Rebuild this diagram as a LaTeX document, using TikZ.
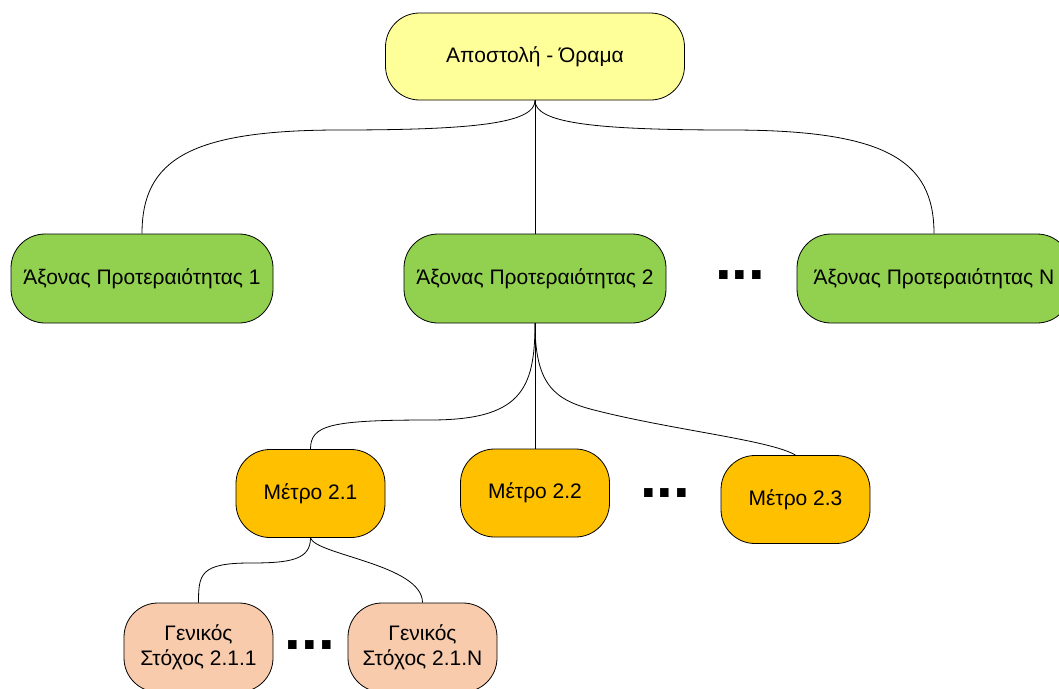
\documentclass[tikz,border=0pt]{standalone}
\usepackage{fontspec}
\setmainfont{Liberation Sans}
\definecolor{visionyellow}{HTML}{FFFF99}
\definecolor{axisgreen}{HTML}{92D050}
\definecolor{measureorange}{HTML}{FFC000}
\definecolor{goalpeach}{HTML}{F8CBAD}
\begin{document}
\begin{tikzpicture}[x=1pt, y=-1pt,
	box/.style={draw, rounded corners=34pt, align=center, line width=0.8pt,
		inner sep=0pt, font=\fontsize{21}{25}\selectfont},
	vision/.style={box, fill=visionyellow, minimum width=299pt, minimum height=87pt},
	axis/.style={box, fill=axisgreen, minimum width=262pt, minimum height=89pt},
	measure/.style={box, fill=measureorange, minimum width=149pt, minimum height=88pt},
	goal/.style={box, fill=goalpeach, minimum width=149pt, minimum height=89pt},
	dots/.style={anchor=base, inner sep=0pt, font=\fontsize{60}{60}\bfseries\selectfont},
	link/.style={line width=0.8pt},
	]
	\useasboundingbox (0,0) rectangle (1059,688);
	\clip (0,0) rectangle (1059,688);

	\node[vision] (v0) at (535,56.5) {Αποστολή - Όραμα};

	\node[axis] (a1) at (142,278.5) {Άξονας Προτεραιότητας 1};
	\node[axis] (a2) at (535,278.5) {Άξονας Προτεραιότητας 2};
	\node[axis, minimum width=274pt] (aN) at (934,278.5) {Άξονας Προτεραιότητας N};

	\node[measure] (m1) at (310.5,493.5) {Μέτρο 2.1};
	\node[measure] (m2) at (535,493) {Μέτρο 2.2};
	\node[measure] (m3) at (795.5,499.5) {Μέτρο 2.3};

	\node[goal] (g1) at (198.5,647.5) {Γενικός\\ Στόχος 2.1.1};
	\node[goal] (gN) at (422.5,647.5) {Γενικός\\ Στόχος 2.1.N};

	\node[dots] (d1) at (740,279) {...};
	\node[dots] (d2) at (665,497) {...};
	\node[dots] (d3) at (310,649) {...};

	\coordinate (k1) at (340,130);
	\coordinate (k2) at (730,130);
	\coordinate (k3) at (430,420);
	\coordinate (k4) at (594,410);
	\coordinate (k5) at (250,563);

	\draw[link] (v0.south) .. controls +(0,22) and +(140,0) .. (k1)
		.. controls +(-150,0) and +(0,-74) .. (a1.north);
	\draw[link] (v0.south) -- (a2.north);
	\draw[link] (v0.south) .. controls +(0,22) and +(-140,0) .. (k2)
		.. controls +(155,0) and +(0,-74) .. (aN.north);

	\draw[link] (a2.south) .. controls +(0,67) and +(90,0) .. (k3)
		.. controls +(-100,0) and +(0,-24) .. (m1.north);
	\draw[link] (a2.south) -- (m2.north);
	\draw[link] (a2.south) .. controls +(0,62) and +(-39,-10) .. (k4)
		.. controls +(78,20) and +(-25,-15) .. (m3.north);

	\draw[link] (m1.south) .. controls +(0,22) and +(40,0) .. (k5)
		.. controls +(-50,0) and +(0,-28) .. (g1.north);
	\draw[link] (m1.south) .. controls +(5,17) and +(0,-38) .. (gN.north);
\end{tikzpicture}
\end{document}
